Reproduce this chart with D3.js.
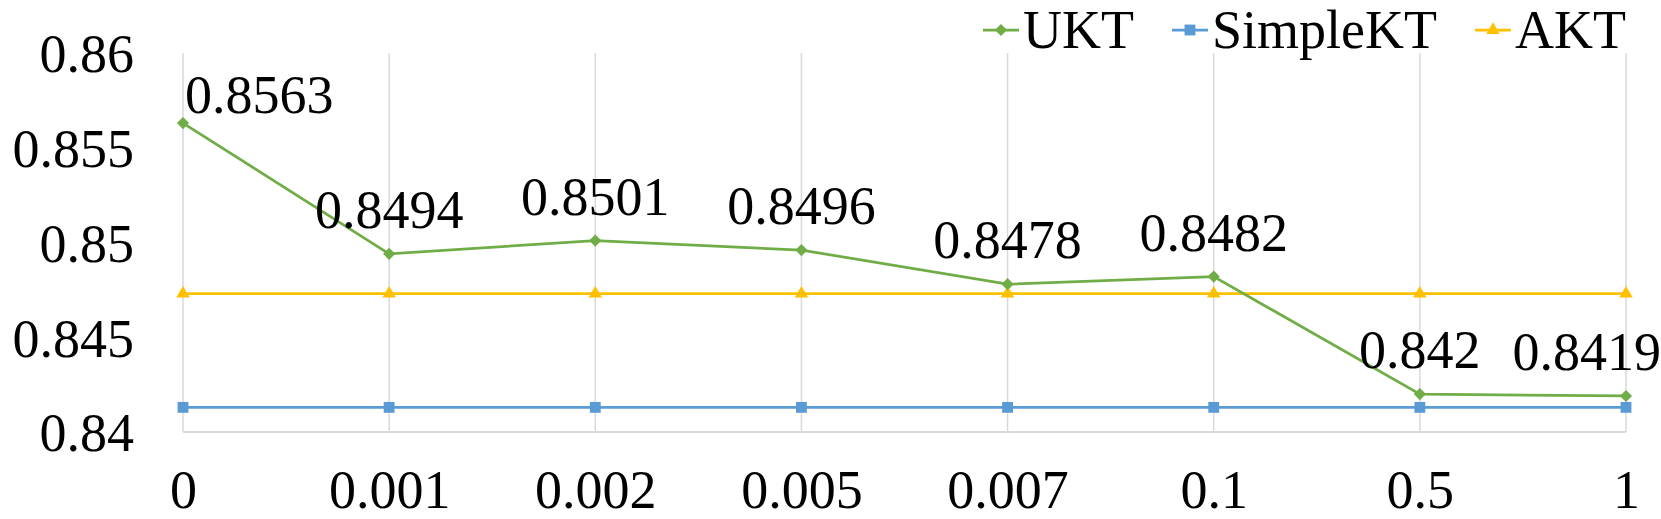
<!DOCTYPE html>
<html>
<head>
<meta charset="utf-8">
<script src="https://cdn.jsdelivr.net/npm/d3@7"></script>
<style>
	body { margin: 0; background: #fff; }
	svg text { font-family: "Times New Roman", "Liberation Serif", Tinos, "DejaVu Serif", serif; fill: #000; }
</style>
</head>
<body>
<div id="chart"></div>
<script>
(function() {
	var width = 1661,
		height = 519;

	// data
	var categories = ["0", "0.001", "0.002", "0.005", "0.007", "0.1", "0.5", "1"];
	var ukt = [0.8563, 0.8494, 0.8501, 0.8496, 0.8478, 0.8482, 0.842, 0.8419];
	var simplekt = [0.8413, 0.8413, 0.8413, 0.8413, 0.8413, 0.8413, 0.8413, 0.8413];
	var akt = [0.8473, 0.8473, 0.8473, 0.8473, 0.8473, 0.8473, 0.8473, 0.8473];
	var yTicks = [0.84, 0.845, 0.85, 0.855, 0.86];
	var seriesNames = ["UKT", "SimpleKT", "AKT"];

	var series = [
		{ name: seriesNames[0], values: ukt, color: "#70AD47", symbol: d3.symbolDiamond2, size: 95 },
		{ name: seriesNames[1], values: simplekt, color: "#5B9BD5", symbol: d3.symbolSquare2, size: 150 },
		{ name: seriesNames[2], values: akt, color: "#FFC000", symbol: d3.symbolTriangle2, size: 130 }
	];

	var fontSize = 54;
	var serif = '"Times New Roman", "Liberation Serif", Tinos, "DejaVu Serif", serif';

	var svg = d3.select("#chart")
		.append("svg")
		.attr("width", width)
		.attr("height", height)
		.attr("font-family", serif);

	var x = d3.scalePoint()
		.domain(categories)
		.range([183, 1626]);

	var y = d3.scaleLinear()
		.domain([0.84, 0.86])
		.range([432, 53]);

	// vertical gridlines
	svg.selectAll(".grid")
		.data(categories)
		.enter().append("line")
		.attr("class", "grid")
		.attr("x1", function(d) { return x(d) })
		.attr("x2", function(d) { return x(d) })
		.attr("y1", y(0.86))
		.attr("y2", y(0.84))
		.attr("stroke", "#D9D9D9")
		.attr("stroke-width", 1.5);

	// bottom axis line
	svg.append("line")
		.attr("x1", x(categories[0]))
		.attr("x2", x(categories[categories.length - 1]))
		.attr("y1", y(0.84))
		.attr("y2", y(0.84))
		.attr("stroke", "#D9D9D9")
		.attr("stroke-width", 2);

	// y axis labels
	var yAxis = d3.axisLeft(y)
		.tickValues(yTicks)
		.tickSize(0)
		.tickPadding(0)
		.tickFormat(function(d) { return String(+d.toFixed(3)) });

	var gy = svg.append("g")
		.attr("transform", "translate(134,0)")
		.call(yAxis)
		.attr("font-family", serif)
		.attr("font-size", fontSize);
	gy.select(".domain").remove();
	gy.selectAll("text")
		.attr("dy", "0.35em");

	// x axis labels
	var xAxis = d3.axisBottom(x)
		.tickSize(0)
		.tickPadding(0);

	var gx = svg.append("g")
		.attr("transform", "translate(0,508)")
		.call(xAxis)
		.attr("font-family", serif)
		.attr("font-size", fontSize);
	gx.select(".domain").remove();
	gx.selectAll("text")
		.attr("dy", 0)
		.attr("y", 0);

	var line = d3.line()
		.x(function(d, i) { return x(categories[i]) })
		.y(function(d) { return y(d) });

	// AKT and SimpleKT first, UKT on top
	[series[2], series[1], series[0]].forEach(function(s) {
		svg.append("path")
			.datum(s.values)
			.attr("d", line)
			.attr("fill", "none")
			.attr("stroke", s.color)
			.attr("stroke-width", 2.75);

		svg.selectAll(".pt-" + s.name)
			.data(s.values)
			.enter().append("path")
			.attr("class", "pt-" + s.name)
			.attr("d", d3.symbol().type(s.symbol).size(s.size))
			.attr("transform", function(d, i) {
				return "translate(" + x(categories[i]) + "," + y(d) + ")"
			})
			.attr("fill", s.color);
	});

	// data labels for UKT
	var labels = svg.selectAll(".dlabel")
		.data(ukt)
		.enter().append("text")
		.attr("class", "dlabel")
		.attr("font-size", fontSize)
		.text(function(d) { return String(d) })
		.attr("x", function(d, i) { return x(categories[i]) + (i === 0 ? 2 : 0) })
		.attr("y", function(d, i) { return y(d) - (i === 0 ? 10 : 26) })
		.attr("text-anchor", function(d, i) { return i === 0 ? "start" : "middle" });

	// keep labels inside the picture
	labels.each(function() {
		var bb = this.getBBox();
		if (bb.x + bb.width > width) {
			d3.select(this).attr("text-anchor", "end").attr("x", width);
		}
	});

	// legend
	var legend = svg.append("g");
	var lx = 983;
	series.forEach(function(s) {
		var g = legend.append("g").attr("transform", "translate(" + lx + ",0)");
		g.append("line")
			.attr("x1", 0).attr("x2", 36)
			.attr("y1", 30).attr("y2", 30)
			.attr("stroke", s.color)
			.attr("stroke-width", 2.75);
		g.append("path")
			.attr("d", d3.symbol().type(s.symbol).size(s.size))
			.attr("transform", "translate(18,30)")
			.attr("fill", s.color);
		var t = g.append("text")
			.attr("x", 40)
			.attr("y", 48)
			.attr("font-size", fontSize)
			.text(s.name);
		lx += 40 + t.node().getComputedTextLength() + 38;
	});

})();
</script>
</body>
</html>
